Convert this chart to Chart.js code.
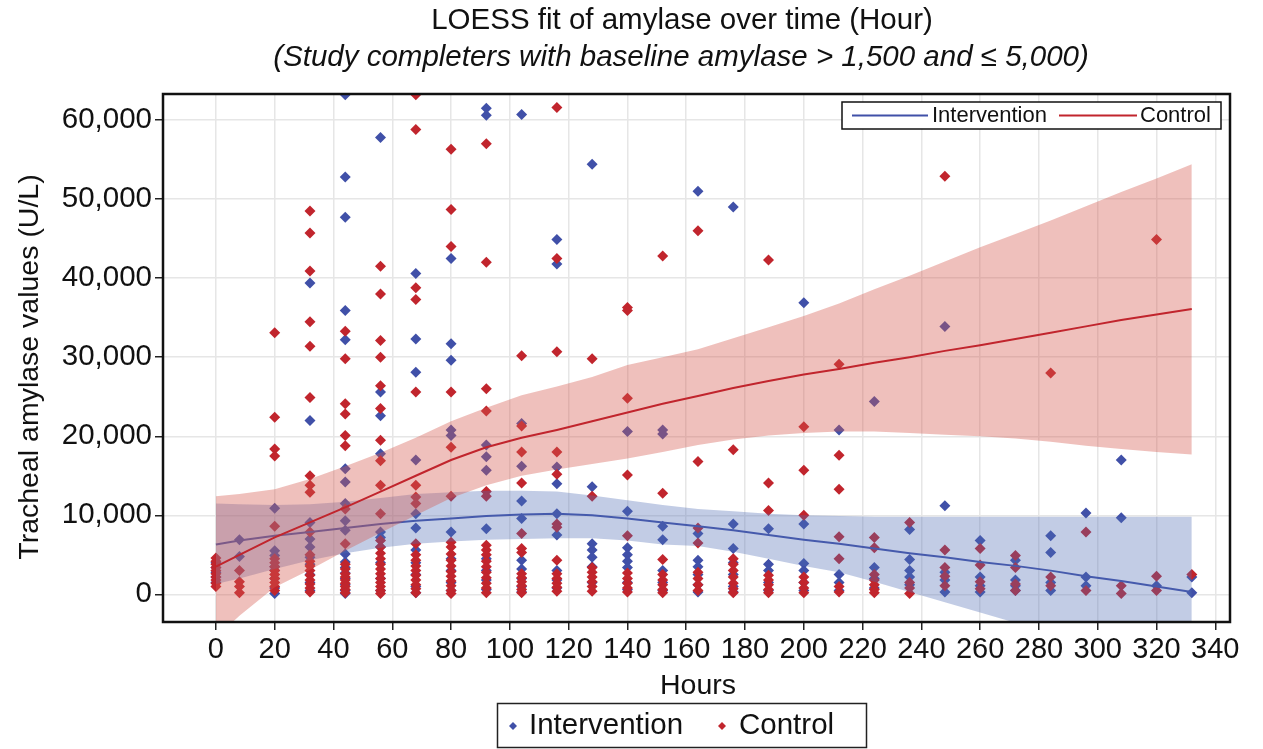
<!DOCTYPE html>
<html>
<head>
<meta charset="utf-8">
<script src="https://cdn.jsdelivr.net/npm/chart.js@4.4.1/dist/chart.umd.min.js"></script>
<style>
  html, body { margin: 0; padding: 0; background: #fff; }
</style>
</head>
<body>
<canvas id="myChart" width="1263" height="749"></canvas>
<script>
// data block
const hours = [0, 8, 20, 32, 44, 56, 68, 80, 92, 104, 116, 128, 140, 152, 164, 176, 188, 200, 212, 224, 236, 248, 260, 272, 284, 296, 308, 320, 332];

// raw amylase values per time point
const interventionVals = [
    [1500, 2200, 2800, 3400, 4000],
    [6900, 4800],
    [10900, 5500, 4900, 3500, 3000, 2000, 800, 100],
    [39400, 22000, 9100, 7000, 6000, 4700, 3800, 2500, 1500, 500],
    [63200, 52800, 47700, 35900, 32200, 15900, 14200, 11500, 9300, 8100, 5100, 4100, 3400, 2700, 2000, 1200, 500, 100],
    [57800, 25600, 22600, 17800, 7900, 7200, 6000, 4000, 2000, 500],
    [40600, 32300, 28100, 17000, 10200, 8400, 5600, 4000, 2500, 1000, 200],
    [42500, 31700, 29600, 20800, 20100, 7900, 4500, 3000, 1500, 500],
    [61500, 60600, 18900, 17400, 15700, 8300, 4500, 3000, 1800, 600],
    [60700, 21600, 16200, 11800, 9600, 4300, 3200, 2000, 1000, 300],
    [44900, 41800, 16100, 14000, 10200, 7500, 3000, 1800, 800],
    [54400, 13600, 6400, 5600, 4700, 3500, 1500],
    [20600, 10500, 5900, 5000, 4200, 3400, 1500, 600],
    [20800, 20300, 8600, 6900, 3000, 1500, 500],
    [51000, 7700, 4300, 3500, 2500, 1200, 300],
    [49000, 8900, 5800, 4000, 2500, 1000, 300],
    [8300, 3800, 3000, 1500, 500],
    [36900, 8900, 3900, 3000, 1500, 500],
    [20800, 2500, 1500, 500],
    [24400, 3400, 2000, 800],
    [8200, 4400, 3000, 2200, 1200],
    [33900, 11200, 2800, 1800, 300],
    [6800, 2200, 1100, 300],
    [4300, 1800, 1100, 500],
    [7400, 5300, 1500, 500],
    [10300, 2200, 1100],
    [17000, 9700],
    [1100],
    [2200, 200]
];
const controlVals = [
    [1000, 1400, 1800, 2200, 2600, 3000, 3400, 3800, 4200, 4600],
    [3000, 1600, 1000, 200],
    [33100, 22400, 18400, 17500, 8600, 4500, 4000, 3500, 3000, 2500, 2000, 1500, 1000, 500],
    [48500, 45700, 40900, 34500, 31400, 24900, 15000, 13800, 12900, 7900, 5000, 4200, 3600, 3000, 2400, 1800, 1300, 800, 300],
    [33300, 29800, 24100, 22800, 20100, 18800, 10800, 6400, 3800, 3200, 2600, 2200, 1800, 1400, 1000, 600, 200],
    [41500, 38000, 32100, 30000, 26400, 23500, 19500, 16900, 13800, 10200, 6800, 6000, 5200, 4500, 3800, 3200, 2600, 2000, 1500, 1000, 500, 100],
    [63200, 58800, 38800, 37300, 25600, 13800, 12300, 11500, 6400, 5000, 4300, 3600, 3000, 2400, 1800, 1200, 700, 200],
    [56300, 48700, 44000, 25600, 18600, 12400, 6600, 6000, 5100, 4300, 3600, 2900, 2300, 1700, 1100, 500, 100],
    [57000, 42000, 26000, 23200, 13000, 12400, 6200, 5600, 5000, 4200, 3500, 2800, 2100, 1400, 800, 200],
    [30200, 21300, 18000, 14100, 7700, 5800, 5300, 2600, 2100, 1600, 1100, 600, 200],
    [61600, 42500, 30700, 18000, 15200, 8900, 8500, 4300, 2600, 2000, 1400, 900, 400],
    [29800, 12400, 3400, 2800, 2200, 1600, 1000, 400],
    [36300, 35900, 24800, 15100, 7400, 2700, 2000, 1400, 800, 300],
    [42800, 12800, 4400, 2500, 1800, 1200, 600, 200],
    [46000, 16800, 8400, 6500, 2800, 2000, 1200, 500],
    [18300, 4500, 3800, 3000, 2200, 1400, 700, 200],
    [42300, 14100, 10600, 2400, 1800, 1200, 600, 200],
    [21200, 15700, 10000, 2200, 1500, 800, 200],
    [29100, 17600, 13300, 7300, 4500, 1000, 300],
    [7200, 5900, 2500, 1800, 1200, 600, 200],
    [9100, 1500, 800, 100],
    [52900, 5600, 3400, 2300, 1100],
    [5800, 3700, 1600, 700],
    [4900, 3400, 1300, 500],
    [28000, 2200, 1100],
    [7900, 500],
    [1100, 100],
    [44900, 2300, 500],
    [2500]
];

// LOESS fits and confidence limits, same hours
const controlFit   = [3500, 5000, 7200, 9100, 11000, 13000, 15000, 17000, 18600, 19800, 20800, 21900, 23000, 24100, 25100, 26100, 27000, 27800, 28500, 29300, 30000, 30800, 31500, 32300, 33100, 33900, 34700, 35400, 36100];
const controlUpper = [12400, 12700, 13300, 14600, 16200, 17900, 19800, 21900, 23600, 25200, 26300, 27500, 29000, 30000, 31000, 32400, 33800, 35200, 36800, 38600, 40300, 42100, 43900, 45600, 47300, 49100, 50900, 52600, 54400];
const controlLower = [-5500, -2700, 900, 3100, 5500, 7800, 10000, 12200, 13800, 15000, 15800, 16500, 17200, 18000, 18900, 19600, 20100, 20400, 20600, 20600, 20400, 20200, 20000, 19700, 19300, 18800, 18400, 18000, 17700];
const interventionFit   = [6300, 6800, 7400, 7900, 8400, 8900, 9300, 9600, 9900, 10100, 10200, 10000, 9600, 9100, 8600, 8100, 7500, 6900, 6400, 5800, 5200, 4700, 4100, 3600, 3000, 2300, 1700, 1000, 300];
const interventionUpper = [11500, 11400, 11300, 11400, 11700, 12200, 12700, 12900, 13100, 13100, 13000, 12500, 11900, 11300, 10800, 10500, 10200, 10000, 9900, 9800, 9800, 9800, 9800, 9800, 9800, 9800, 9800, 9800, 9800];
const interventionLower = [1300, 2000, 3200, 4300, 5200, 5900, 6400, 6700, 6900, 7000, 7100, 7100, 6800, 6300, 6100, 5400, 4500, 3600, 2800, 1600, 300, -1000, -2300, -3600, -5000, -6400, -7800, -9200, -10600];

const xTicks = [0, 20, 40, 60, 80, 100, 120, 140, 160, 180, 200, 220, 240, 260, 280, 300, 320, 340];
const yTicks = [0, 10000, 20000, 30000, 40000, 50000, 60000];

const titleText = 'LOESS fit of amylase over time (Hour)';
const subtitleText = '(Study completers with baseline amylase > 1,500 and \u2264 5,000)';
const xTitle = 'Hours';
const yTitle = 'Tracheal amylase values (U/L)';

const BLUE = '#4050a8';
const RED = '#c1252d';
const FONT = '"Liberation Sans", Arial, sans-serif';

function points(vals) {
    return vals.flatMap((col, i) => col.map(v => ({x: hours[i], y: v})));
}
function curve(vals) {
    return vals.map((v, i) => ({x: hours[i], y: v}));
}

function diamond(ctx, x, y, r, color) {
    ctx.fillStyle = color;
    ctx.beginPath();
    ctx.moveTo(x, y - r); ctx.lineTo(x + r, y); ctx.lineTo(x, y + r); ctx.lineTo(x - r, y);
    ctx.closePath();
    ctx.fill();
}

// frame, titles and the two legends
const decorations = {
    id: 'decorations',
    afterDraw(chart) {
        const ctx = chart.ctx, a = chart.chartArea;
        const ds = chart.data.datasets;
        ctx.save();
        ctx.strokeStyle = '#111';
        ctx.lineWidth = 2.5;
        ctx.strokeRect(a.left, a.top, a.right - a.left, a.bottom - a.top);

        ctx.fillStyle = '#111';
        ctx.textAlign = 'center';
        ctx.textBaseline = 'middle';
        ctx.font = '29.5px ' + FONT;
        ctx.fillText(titleText, 682, 21);
        ctx.font = 'italic 29.5px ' + FONT;
        ctx.fillText(subtitleText, 681, 58);
        ctx.font = '28.5px ' + FONT;
        ctx.fillText(xTitle, 698, 686);
        ctx.save();
        ctx.translate(30, 367);
        ctx.rotate(-Math.PI / 2);
        ctx.fillText(yTitle, 0, 0);
        ctx.restore();

        // inner legend (fit lines)
        ctx.fillStyle = '#fff';
        ctx.fillRect(842, 102, 379, 27);
        ctx.strokeStyle = '#111';
        ctx.lineWidth = 1.5;
        ctx.strokeRect(842, 102, 379, 27);
        ctx.lineWidth = 2;
        ctx.strokeStyle = BLUE;
        ctx.beginPath(); ctx.moveTo(852, 115.5); ctx.lineTo(928, 115.5); ctx.stroke();
        ctx.strokeStyle = RED;
        ctx.beginPath(); ctx.moveTo(1059, 115.5); ctx.lineTo(1137, 115.5); ctx.stroke();
        ctx.fillStyle = '#111';
        ctx.textAlign = 'left';
        ctx.font = '22px ' + FONT;
        ctx.fillText(ds[5].label, 932, 116);
        ctx.fillText(ds[0].label, 1140, 116);

        // bottom legend (markers)
        ctx.strokeStyle = '#222';
        ctx.lineWidth = 1.5;
        ctx.strokeRect(497.5, 703.5, 369, 44);
        diamond(ctx, 513, 726, 4, BLUE);
        diamond(ctx, 722, 726, 4, RED);
        ctx.fillStyle = '#111';
        ctx.font = '29.5px ' + FONT;
        ctx.fillText(ds[6].label, 529, 726);
        ctx.fillText(ds[7].label, 739, 726);
        ctx.restore();
    }
};

const ctx = document.getElementById('myChart').getContext('2d');
const myChart = new Chart(ctx, {
    type: 'scatter',
    data: {
        datasets: [
            {type: 'line', label: 'Control', data: curve(controlFit), borderColor: RED, borderWidth: 2,
             pointRadius: 0, fill: false, tension: 0, order: 1},
            {type: 'line', label: 'Control upper', data: curve(controlUpper), borderWidth: 0, borderColor: 'rgba(0,0,0,0)',
             pointRadius: 0, fill: '+1', backgroundColor: 'rgba(214, 90, 80, 0.38)', tension: 0, order: 2},
            {type: 'line', label: 'Control lower', data: curve(controlLower), borderWidth: 0, borderColor: 'rgba(0,0,0,0)',
             pointRadius: 0, fill: false, tension: 0, order: 2},
            {type: 'line', label: 'Intervention upper', data: curve(interventionUpper), borderWidth: 0, borderColor: 'rgba(0,0,0,0)',
             pointRadius: 0, fill: '+1', backgroundColor: 'rgba(80, 110, 180, 0.35)', tension: 0, order: 3},
            {type: 'line', label: 'Intervention lower', data: curve(interventionLower), borderWidth: 0, borderColor: 'rgba(0,0,0,0)',
             pointRadius: 0, fill: false, tension: 0, order: 3},
            {type: 'line', label: 'Intervention', data: curve(interventionFit), borderColor: BLUE, borderWidth: 2,
             pointRadius: 0, fill: false, tension: 0, order: 4},
            {label: 'Intervention', data: points(interventionVals), pointStyle: 'rectRot', pointRadius: 5.5,
             backgroundColor: BLUE, borderColor: BLUE, borderWidth: 0, order: 6},
            {label: 'Control', data: points(controlVals), pointStyle: 'rectRot', pointRadius: 5.5,
             backgroundColor: RED, borderColor: RED, borderWidth: 0, order: 5}
        ]
    },
    options: {
        responsive: false,
        animation: false,
        layout: {padding: {top: 94, right: 33, left: 0, bottom: 0}},
        plugins: {legend: {display: false}, tooltip: {enabled: false}, title: {display: false}},
        scales: {
            x: {
                type: 'linear', min: -18, max: 345,
                afterBuildTicks: s => { s.ticks = xTicks.map(v => ({value: v})); },
                afterFit: s => { s.height = 127; },
                border: {display: false},
                grid: {color: '#e6e6e6', lineWidth: 1.5, tickColor: '#222', tickLength: 8, tickWidth: 1.5},
                ticks: {color: '#111', font: {family: FONT, size: 29}, padding: 3, maxRotation: 0, autoSkip: false}
            },
            y: {
                type: 'linear', min: -3500, max: 63300,
                afterBuildTicks: s => { s.ticks = yTicks.map(v => ({value: v})); },
                afterFit: s => { s.width = 163; },
                border: {display: false},
                grid: {color: '#e6e6e6', lineWidth: 1.5, tickColor: '#222', tickLength: 8, tickWidth: 1.5},
                ticks: {color: '#111', font: {family: FONT, size: 29.5}, padding: 3,
                        callback: v => v.toLocaleString('en-US')}
            }
        }
    },
    plugins: [decorations]
});
</script>
</body>
</html>
